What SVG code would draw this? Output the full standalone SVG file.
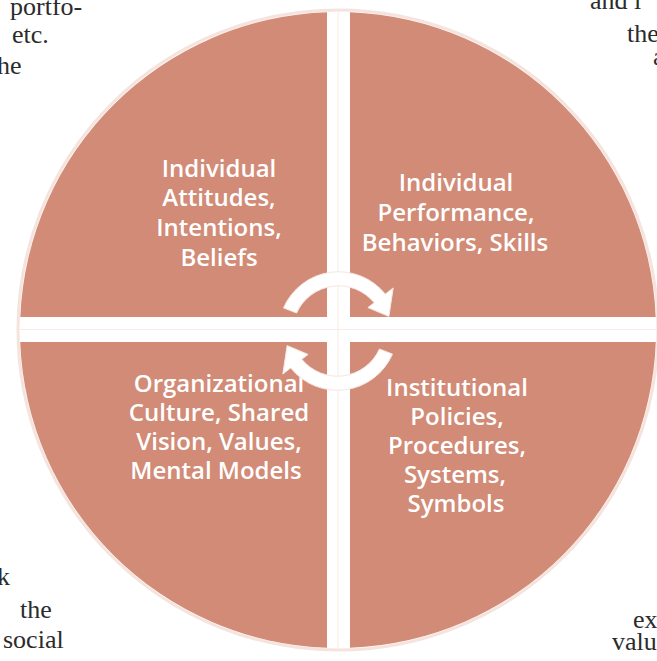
<svg xmlns="http://www.w3.org/2000/svg" width="657" height="661" viewBox="0 0 657 661">
  <style>
    .quad { fill: #D18B76; }
    .lbl { font-family: "Open Sans", "Noto Sans", "Liberation Sans", sans-serif; font-weight: 600; font-size: 24px; fill: #FFFFFF; text-anchor: middle; }
    .page { font-family: "Liberation Serif", "DejaVu Serif", serif; font-size: 26px; fill: #2B2B2B; }
    .arrow { fill: #FFFFFF; stroke: #F6E6E0; stroke-width: 1; }
  </style>
  <defs>
    <path id="arcArrow" d="M283.5,307.9 A60,60 0 0 1 385.3,294.1 L393.2,287.9 L388.9,316.4 L367.9,307.6 L374.2,302.7 A46,46 0 0 0 296.6,313.0 Z"/>
  </defs>
  <rect x="0" y="0" width="657" height="661" fill="#FFFFFF"/>

  <g id="page-text">
    <text class="page" x="10" y="15">portfo-</text>
    <text class="page" x="12" y="43">etc.</text>
    <text class="page" x="-3" y="74">he</text>
    <text class="page" x="590" y="9">and  i</text>
    <text class="page" x="627" y="42">the</text>
    <text class="page" x="653" y="65">a</text>
    <text class="page" x="-3" y="585">k</text>
    <text class="page" x="20" y="618">the</text>
    <text class="page" x="3" y="648">social</text>
    <text class="page" x="633" y="628">ex</text>
    <text class="page" x="612" y="650">valu</text>
  </g>

  <circle cx="338" cy="330" r="320" fill="none" stroke="#EFD0C6" stroke-width="3" opacity="0.6"/>

  <g id="q-tl">
    <path class="quad" d="M327,317 L327,12.2 A318,318 0 0 0 20.3,317 Z"/>
    <text class="lbl" x="219" y="177">Individual</text>
    <text class="lbl" x="219" y="206">Attitudes,</text>
    <text class="lbl" x="219" y="236">Intentions,</text>
    <text class="lbl" x="219" y="266">Beliefs</text>
  </g>
  <g id="q-tr">
    <path class="quad" d="M350,317 L350,12.2 A318,318 0 0 1 655.7,317 Z"/>
    <text class="lbl" x="456" y="191">Individual</text>
    <text class="lbl" x="456" y="221">Performance,</text>
    <text class="lbl" x="455" y="251">Behaviors, Skills</text>
  </g>
  <g id="q-bl">
    <path class="quad" d="M327,342 L20.2,342 A318,318 0 0 0 327,647.8 Z"/>
    <text class="lbl" x="219" y="392">Organizational</text>
    <text class="lbl" x="219" y="421">Culture, Shared</text>
    <text class="lbl" x="219" y="450">Vision, Values,</text>
    <text class="lbl" x="216" y="479">Mental Models</text>
  </g>
  <g id="q-br">
    <path class="quad" d="M350,342 L350,647.8 A318,318 0 0 0 655.8,342 Z"/>
    <text class="lbl" x="457" y="396">Institutional</text>
    <text class="lbl" x="457" y="425">Policies,</text>
    <text class="lbl" x="457" y="454">Procedures,</text>
    <text class="lbl" x="455" y="483">Systems,</text>
    <text class="lbl" x="456" y="512">Symbols</text>
  </g>

  <g id="connectors">
    <line x1="338" y1="12" x2="338" y2="648" stroke="#F8EAE5" stroke-width="1"/>
    <line x1="20" y1="329.5" x2="656" y2="329.5" stroke="#F8EAE5" stroke-width="1"/>
    <use href="#arcArrow" class="arrow"/>
    <use href="#arcArrow" class="arrow" transform="rotate(180 338 331)"/>
  </g>
</svg>
